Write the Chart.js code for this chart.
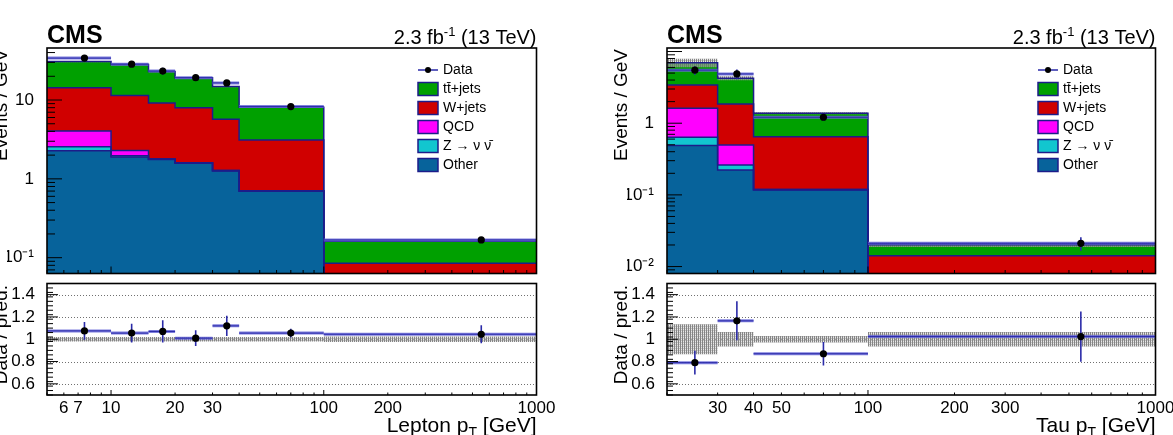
<!DOCTYPE html>
<html><head><meta charset="utf-8">
<script src="https://cdn.jsdelivr.net/npm/chart.js@4.4.1/dist/chart.umd.min.js"></script>
<style>
html,body{margin:0;padding:0;background:#fff;overflow:hidden}
#wrap{position:relative;width:1173px;height:435px;overflow:hidden;background:#fff}
#wrap canvas{position:absolute;left:0;top:0}
</style></head><body><div id="wrap">
<canvas id="lepTop" width="1173" height="435"></canvas>
<canvas id="lepRatio" width="1173" height="435"></canvas>
<canvas id="tauTop" width="1173" height="435"></canvas>
<canvas id="tauRatio" width="1173" height="435"></canvas>
</div>
<script>
// ================= DATA =================
// Left panel: lepton pT
const leptonEdges   = [5, 10, 15, 20, 30, 40, 100, 1000];
const leptonOther   = [2.27, 1.90, 1.76, 1.58, 1.26, 0.698, 0.03];
const leptonZnunu   = [0.28, 0.06, 0.02, 0.02, 0.02, 0.01, 0.002];
const leptonQCD     = [1.51, 0.33, 0, 0, 0, 0, 0];
const leptonWjets   = [10.2, 9.1, 7.4, 6.4, 4.44, 2.41, 0.053];
const leptonTTjets  = [16.5, 16.8, 13.8, 11.2, 9.1, 5.0, 0.077];
const leptonDataX   = [7.5, 12.5, 17.5, 25, 35, 70, 550];
const leptonData    = [34.0, 28.5, 23.3, 19.2, 16.5, 8.26, 0.168];
const leptonDataErr = [2.4, 2.2, 2.3, 1.4, 1.3, 0.3, 0.012];
const leptonRatio    = [1.075, 1.055, 1.07, 1.01, 1.12, 1.055, 1.045];
const leptonRatioErr = [0.08, 0.085, 0.10, 0.07, 0.09, 0.04, 0.08];
const leptonSyst     = [0.02, 0.02, 0.02, 0.02, 0.02, 0.02, 0.025];
const leptonXTicks   = [6, 7, 10, 20, 30, 100, 200, 1000];
const leptonYTicks   = [0.1, 1, 10];

// Right panel: tau pT
const tauEdges   = [20, 30, 40, 100, 1000];
const tauOther   = [0.487, 0.223, 0.117, 0.001];
const tauZnunu   = [0.151, 0.039, 0.002, 0.0002];
const tauQCD     = [0.98, 0.236, 0, 0];
const tauWjets   = [1.80, 1.36, 0.53, 0.013];
const tauTTjets  = [3.58, 2.38, 0.73, 0.0059];
const tauDataX   = [25, 35, 70, 550];
const tauData    = [5.5, 4.87, 1.21, 0.0211];
const tauDataErr = [0.75, 0.75, 0.13, 0.0045];
const tauRatio    = [0.79, 1.165, 0.87, 1.024];
const tauRatioErr = [0.107, 0.175, 0.105, 0.225];
const tauSyst     = [0.135, 0.065, 0.03, 0.065];
const tauXTicks   = [30, 40, 50, 100, 200, 300, 1000];
const tauYTicks   = [0.01, 0.1, 1];

const ratioYTicks = [0.6, 0.8, 1, 1.2, 1.4];
const processNames = ['Other', 'Z \u2192 \u03bd \u03bd\u0304', 'QCD', 'W+jets', 'tt\u0304+jets'];
const processColors = ['#07639b', '#12c6cf', '#ff00ff', '#d00000', '#00a000'];

// ================= HELPERS =================
const FONT = '"Liberation Sans", Arial, Helvetica, sans-serif';
const NAVY = '#1c1c8a';
const ERRC = '#2a2aa8';
function fnt(size, bold) { return (bold ? 'bold ' : '') + size + 'px ' + FONT; }
function rich(ctx, segs, x, y, align) {
  let w = 0;
  for (const s of segs) { ctx.font = fnt(s.size, s.bold); s._w = ctx.measureText(s.t).width; w += s._w; }
  let cx = align === 'right' ? x - w : x;
  for (const s of segs) { ctx.font = fnt(s.size, s.bold); ctx.fillText(s.t, cx, y + (s.dy || 0)); cx += s._w; }
}
function cumulative(parts) {
  const out = []; let acc = parts[0].map(() => 0);
  for (const p of parts) { acc = acc.map((v, i) => v + p[i]); out.push(acc.slice()); }
  return out;
}
function steps(edges, vals) {
  const pts = vals.map((v, i) => ({x: edges[i], y: v}));
  pts.push({x: edges[edges.length - 1], y: vals[vals.length - 1]});
  return pts;
}
function logTicks(min, max) {
  const major = [], minor = [];
  for (let e = Math.floor(Math.log10(min)) - 1; e <= Math.ceil(Math.log10(max)); e++) {
    for (let k = 1; k < 10; k++) {
      const v = k * Math.pow(10, e);
      if (v < min * 0.9999 || v > max * 1.0001) continue;
      (k === 1 ? major : minor).push(v);
    }
  }
  return {major, minor};
}
function hatchPattern() {
  const c = document.createElement('canvas'); c.width = 2; c.height = 2;
  const g = c.getContext('2d');
  g.fillStyle = 'rgba(120,120,120,0.9)'; g.fillRect(0, 0, 1, 2);
  g.fillStyle = 'rgba(170,170,170,0.7)'; g.fillRect(1, 0, 1, 1);
  g.fillStyle = 'rgba(210,210,210,0.5)'; g.fillRect(1, 1, 1, 1);
  return g.createPattern(c, 'repeat');
}
function supLabel(v) {
  if (v === 1) return '1';
  if (v === 10) return '10';
  if (v === 0.1) return '10\u207B\u00B9';
  if (v === 0.01) return '10\u207B\u00B2';
  return String(v);
}
function line(ctx, x0, y0, x1, y1) { ctx.beginPath(); ctx.moveTo(x0, y0); ctx.lineTo(x1, y1); ctx.stroke(); }

// ================= PLUGIN =================
const rootDecor = {
  id: 'rootDecor',
  beforeDatasetsDraw(chart, args, o) {
    const {ctx, chartArea: a} = chart; const y = chart.scales.y;
    if (o.gridY) {
      ctx.save(); ctx.strokeStyle = '#707070'; ctx.lineWidth = 1; ctx.setLineDash([1, 2]);
      for (const v of o.gridY) { const py = Math.round(y.getPixelForValue(v)) + 0.5; line(ctx, a.left, py, a.right, py); }
      ctx.restore();
    }
  },
  afterDatasetsDraw(chart, args, o) {
    const {ctx, chartArea: a} = chart; const x = chart.scales.x, y = chart.scales.y;
    ctx.save();
    ctx.beginPath(); ctx.rect(a.left, a.top, a.right - a.left, a.bottom - a.top); ctx.clip();
    if (o.points) {
      const P = o.points;
      for (let i = 0; i < P.y.length; i++) {
        const py = y.getPixelForValue(P.y[i]);
        const x0 = x.getPixelForValue(P.lo[i]), x1 = x.getPixelForValue(P.hi[i]);
        ctx.strokeStyle = 'rgba(105,105,215,0.85)'; ctx.lineWidth = 3; line(ctx, x0, py, x1, py);
        ctx.strokeStyle = ERRC; ctx.lineWidth = 1; line(ctx, x0, py, x1, py);
        const px = x.getPixelForValue(P.x[i]);
        ctx.lineWidth = 1.6;
        line(ctx, px, y.getPixelForValue(P.y[i] - P.e[i]), px, y.getPixelForValue(P.y[i] + P.e[i]));
        ctx.fillStyle = '#000'; ctx.beginPath(); ctx.arc(px, py, 3.6, 0, Math.PI * 2); ctx.fill();
      }
    }
    ctx.restore();
    ctx.save(); ctx.strokeStyle = '#000'; ctx.lineWidth = 1;
    const xt = o.xTicks, yt = o.yTicks;
    if (xt) {
      for (const v of xt.major) { const p = x.getPixelForValue(v); line(ctx, p, a.bottom, p, a.bottom - xt.majorLen); }
      for (const v of xt.minor) { const p = x.getPixelForValue(v); line(ctx, p, a.bottom, p, a.bottom - xt.minorLen); }
    }
    if (yt) {
      for (const v of yt.major) { const p = y.getPixelForValue(v); line(ctx, a.left, p, a.left + yt.majorLen, p); }
      for (const v of yt.minor) { const p = y.getPixelForValue(v); line(ctx, a.left, p, a.left + yt.minorLen, p); }
    }
    ctx.lineWidth = 1.6; ctx.strokeRect(a.left, a.top, a.right - a.left, a.bottom - a.top);
    ctx.restore();
  },
  afterDraw(chart, args, o) {
    const ctx = chart.ctx;
    ctx.save(); ctx.fillStyle = '#000';
    for (const t of (o.texts || [])) {
      ctx.save(); ctx.translate(t.x, t.y); if (t.rot) ctx.rotate(t.rot);
      ctx.textBaseline = t.baseline || 'alphabetic';
      rich(ctx, t.segs, 0, 0, t.align); ctx.restore();
    }
    if (o.legend) {
      const L = o.legend;
      ctx.textBaseline = 'middle';
      L.items.forEach((it, i) => {
        const cy = L.y + i * L.dy;
        if (it.marker) {
          ctx.strokeStyle = ERRC; ctx.lineWidth = 1.5; line(ctx, L.x, cy, L.x + 20, cy);
          ctx.fillStyle = '#000'; ctx.beginPath(); ctx.arc(L.x + 10, cy, 3, 0, Math.PI * 2); ctx.fill();
        } else {
          ctx.fillStyle = it.color; ctx.fillRect(L.x, cy - 6.5, 20, 13);
          ctx.strokeStyle = NAVY; ctx.lineWidth = 1.5; ctx.strokeRect(L.x, cy - 6.5, 20, 13);
        }
        ctx.fillStyle = '#000'; ctx.font = fnt(14); ctx.fillText(it.label, L.x + 25, cy + 0.5);
      });
    }
    ctx.restore();
  }
};

// ================= CHART BUILDERS =================
const W = 1173, H = 435;
function upperChart(id, p) {
  const el = document.getElementById(id);
  const ctx = el.getContext('2d');
  const pat = hatchPattern();
  const cum = cumulative(p.parts);
  const total = cum[cum.length - 1];
  const datasets = cum.map((vals, i) => ({
    label: processNames[i], data: steps(p.edges, vals), stepped: 'before',
    borderColor: NAVY, borderWidth: 1.5, backgroundColor: processColors[i],
    fill: i === 0 ? 'start' : '-1', pointRadius: 0, tension: 0, order: 10 - i
  }));
  datasets.push({label: 'unc-lo', data: steps(p.edges, total.map((v, i) => v * (1 - p.syst[i]))), stepped: 'before',
    borderColor: 'rgba(0,0,0,0)', borderWidth: 1, pointRadius: 0, fill: false, order: 1});
  datasets.push({label: 'unc-hi', data: steps(p.edges, total.map((v, i) => v * (1 + p.syst[i]))), stepped: 'before',
    borderColor: 'rgba(0,0,0,0)', borderWidth: 1, pointRadius: 0, fill: '-1', backgroundColor: pat, order: 0});
  const f = p.frame;
  const lx = logTicks(p.xmin, p.xmax), ly = logTicks(p.ymin, p.ymax);
  const legendItems = [{label: 'Data', marker: true}];
  for (let i = processNames.length - 1; i >= 0; i--) legendItems.push({label: processNames[i], color: processColors[i]});
  return new Chart(ctx, {
    type: 'line',
    data: {datasets},
    options: {
      responsive: false, animation: false, events: [],
      layout: {autoPadding: false, padding: {left: f.L - 40, right: W - f.R, top: f.T, bottom: H - f.B}},
      scales: {
        x: {type: 'logarithmic', min: p.xmin, max: p.xmax, display: false},
        y: {type: 'logarithmic', min: p.ymin, max: p.ymax,
          afterFit: s => { s.width = 40; s.paddingTop = 0; s.paddingBottom = 0; },
          afterBuildTicks: s => { s.ticks = p.yTicks.map(v => ({value: v})); },
          ticks: {callback: v => supLabel(v), font: {family: FONT, size: 17}, color: '#000', padding: 5, autoSkip: false, maxRotation: 0},
          grid: {display: false}, border: {display: false}}
      },
      plugins: {
        legend: {display: false}, tooltip: {enabled: false},
        filler: {drawTime: 'beforeDatasetsDraw'},
        rootDecor: {
          points: {x: p.dataX, y: p.data, e: p.dataErr, lo: p.edges.slice(0, -1), hi: p.edges.slice(1)},
          xTicks: {major: lx.major, minor: lx.minor, majorLen: 7, minorLen: 3.5},
          yTicks: {major: ly.major, minor: ly.minor, majorLen: 15, minorLen: 8},
          texts: [
            {x: f.L, y: 43, align: 'left', segs: [{t: 'CMS', size: 25, bold: true}]},
            {x: f.R, y: 44, align: 'right', segs: [{t: '2.3 fb', size: 20}, {t: '-1', size: 13, dy: -8}, {t: ' (13 TeV)', size: 20}]},
            {x: f.L - 45.5, y: f.T + 1, rot: -Math.PI / 2, baseline: 'middle', align: 'right', segs: [{t: 'Events / GeV', size: 19}]}
          ],
          legend: {x: f.L + 371, y: f.T + 22, dy: 19, items: legendItems}
        }
      }
    },
    plugins: [rootDecor]
  });
}

function ratioChart(id, p) {
  const el = document.getElementById(id);
  const ctx = el.getContext('2d');
  const pat = hatchPattern();
  const f = p.frame;
  const lx = logTicks(p.xmin, p.xmax);
  const yMinor = [];
  for (let k = 0; k <= 25; k++) { const v = 0.5 + k * 0.04; if (v <= 1.5) yMinor.push(v); }
  const datasets = [
    {label: 'syst-lo', data: steps(p.edges, p.syst.map(u => 1 - u)), stepped: 'before',
      borderColor: 'rgba(0,0,0,0)', borderWidth: 1, pointRadius: 0, fill: false},
    {label: 'syst-hi', data: steps(p.edges, p.syst.map(u => 1 + u)), stepped: 'before',
      borderColor: 'rgba(0,0,0,0)', borderWidth: 1, pointRadius: 0, fill: '-1', backgroundColor: pat}
  ];
  return new Chart(ctx, {
    type: 'line',
    data: {datasets},
    options: {
      responsive: false, animation: false, events: [],
      layout: {autoPadding: false, padding: {left: f.L - 40, right: W - f.R, top: f.T, bottom: H - f.B - 25}},
      scales: {
        x: {type: 'logarithmic', min: p.xmin, max: p.xmax,
          afterFit: s => { s.height = 25; s.paddingLeft = 0; s.paddingRight = 0; },
          afterBuildTicks: s => { s.ticks = p.xTicks.map(v => ({value: v})); },
          ticks: {callback: v => String(v), font: {family: FONT, size: 17}, color: '#000', padding: -5, autoSkip: false, maxRotation: 0},
          grid: {display: false}, border: {display: false}},
        y: {type: 'linear', min: 0.5, max: 1.5,
          afterFit: s => { s.width = 40; s.paddingTop = 0; s.paddingBottom = 0; },
          afterBuildTicks: s => { s.ticks = ratioYTicks.map(v => ({value: v})); },
          ticks: {callback: v => String(v), font: {family: FONT, size: 17}, color: '#000', padding: 4, autoSkip: false},
          grid: {display: false}, border: {display: false}}
      },
      plugins: {
        legend: {display: false}, tooltip: {enabled: false},
        rootDecor: {
          gridY: ratioYTicks,
          points: {x: p.dataX, y: p.ratio, e: p.ratioErr, lo: p.edges.slice(0, -1), hi: p.edges.slice(1)},
          xTicks: {major: lx.major, minor: lx.minor, majorLen: 5, minorLen: 2.5},
          yTicks: {major: ratioYTicks, minor: yMinor, majorLen: 11, minorLen: 6},
          texts: [
            {x: f.L - 45.5, y: f.T + 1.5, rot: -Math.PI / 2, baseline: 'middle', align: 'right', segs: [{t: 'Data / pred.', size: 19}]},
            {x: f.R, y: 432, align: 'right', segs: [{t: p.xTitle + ' p', size: 21}, {t: 'T', size: 14, dy: 5}, {t: ' [GeV]', size: 21}]}
          ]
        }
      }
    },
    plugins: [rootDecor]
  });
}

// ================= BUILD =================
const frameLU = {L: 47, R: 536.5, T: 48, B: 273.5};
const frameRU = {L: 667, R: 1155.5, T: 48, B: 273.5};
const frameLR = {L: 47, R: 536.5, T: 283.5, B: 395};
const frameRR = {L: 667, R: 1155.5, T: 283.5, B: 395};

upperChart('lepTop', {frame: frameLU, edges: leptonEdges,
  parts: [leptonOther, leptonZnunu, leptonQCD, leptonWjets, leptonTTjets],
  data: leptonData, dataErr: leptonDataErr, dataX: leptonDataX, syst: leptonSyst,
  xmin: 5, xmax: 1000, ymin: 0.063, ymax: 45.7, yTicks: leptonYTicks});
ratioChart('lepRatio', {frame: frameLR, edges: leptonEdges, ratio: leptonRatio, ratioErr: leptonRatioErr,
  syst: leptonSyst, dataX: leptonDataX, xmin: 5, xmax: 1000, xTicks: leptonXTicks, xTitle: 'Lepton'});
upperChart('tauTop', {frame: frameRU, edges: tauEdges,
  parts: [tauOther, tauZnunu, tauQCD, tauWjets, tauTTjets],
  data: tauData, dataErr: tauDataErr, dataX: tauDataX, syst: tauSyst,
  xmin: 20, xmax: 1000, ymin: 0.0080, ymax: 11.2, yTicks: tauYTicks});
ratioChart('tauRatio', {frame: frameRR, edges: tauEdges, ratio: tauRatio, ratioErr: tauRatioErr,
  syst: tauSyst, dataX: tauDataX, xmin: 20, xmax: 1000, xTicks: tauXTicks, xTitle: 'Tau'});
</script></body></html>
